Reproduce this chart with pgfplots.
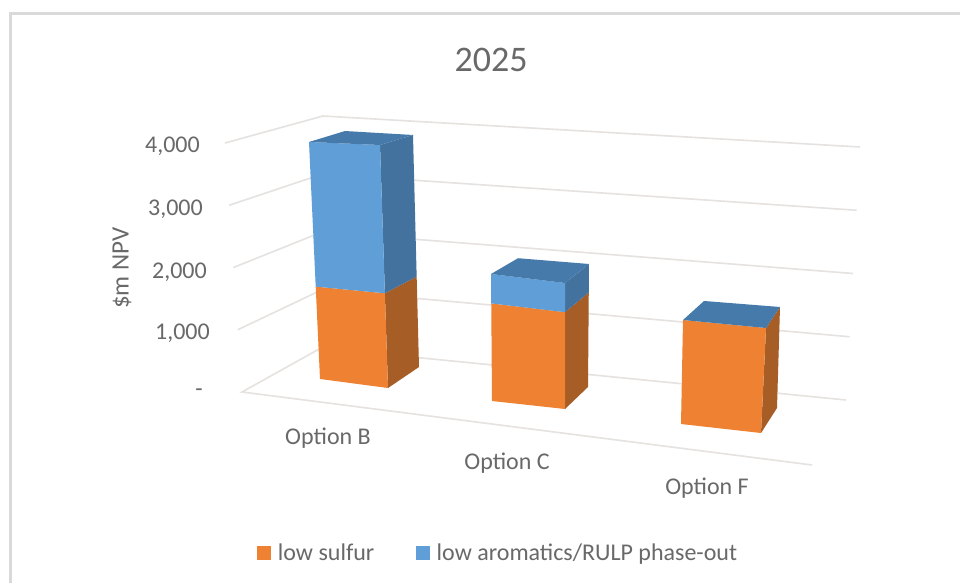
\documentclass[border=0pt]{standalone}
\usepackage{fontspec}
\setmainfont{Carlito}
\usepackage{pgfplots}
\pgfplotsset{compat=1.18}

\definecolor{sulfurfront}{RGB}{238,130,50}
\definecolor{sulfurside}{RGB}{166,93,38}
\definecolor{aromfront}{RGB}{95,158,215}
\definecolor{aromside}{RGB}{68,114,158}
\definecolor{aromtop}{RGB}{70,122,170}
\definecolor{gridgrey}{RGB}{229,226,224}
\definecolor{framegrey}{RGB}{217,217,217}
\definecolor{labelgrey}{RGB}{105,105,105}

% Each row holds a vertical edge of the 3D scene: its foot on the floor (fx,fy),
% its drift per 1000 units of value (gx,gy), and the value v reached on it.
\pgfplotsset{
  table/corner/.style={x expr=\thisrow{fx}+\thisrow{v}/1000*\thisrow{gx},
                 y expr=\thisrow{fy}+\thisrow{v}/1000*\thisrow{gy}},
  face/.style={fill=#1,draw=none,forget plot,no markers},
  gridline/.style={draw=gridgrey,line width=1.6pt,no markers,forget plot},
}

\begin{document}
\begin{tikzpicture}
\begin{axis}[
  scale only axis,width=960pt,height=583pt,
  xmin=0,xmax=960,ymin=0,ymax=583,y dir=reverse,
  hide axis,
  legend style={at={(0.268,0.0515)},anchor=west,draw=none,fill=none,
    font=\fontsize{24}{26}\selectfont\color{labelgrey},
    legend columns=2,inner sep=0pt,
    /tikz/every odd column/.append style={column sep=5pt},
    /tikz/every even column/.append style={column sep=40pt}},
]
\addlegendimage{legend image code/.code={\fill[sulfurfront] (0pt,-6.5pt) rectangle (13pt,6.5pt);}}
\addlegendentry{low sulfur}
\addlegendimage{legend image code/.code={\fill[aromfront] (0pt,-6.5pt) rectangle (13pt,6.5pt);}}
\addlegendentry{low aromatics/RULP phase-out}

% white chart area, which also fixes the extent of the picture
\addplot[fill=white,draw=none,no markers,forget plot] coordinates {(0,0) (960,0) (960,583) (0,583)};

% chart frame
\addplot[draw=framegrey,line width=2.6pt,no markers,forget plot] coordinates {(10.5,583) (10.5,13.5) (960,13.5)};

% gridlines along the side and back walls
\addplot[gridline] table[corner] {
fx fy gx gy v
242 392 -4.25 -62.25 4000
321 348 0.5 -58 4000
846 400 3.5 -63.25 4000
};
\addplot[gridline] table[corner] {
fx fy gx gy v
242 392 -4.25 -62.25 3000
321 348 0.5 -58 3000
846 400 3.5 -63.25 3000
};
\addplot[gridline] table[corner] {
fx fy gx gy v
242 392 -4.25 -62.25 2000
321 348 0.5 -58 2000
846 400 3.5 -63.25 2000
};
\addplot[gridline] table[corner] {
fx fy gx gy v
242 392 -4.25 -62.25 1000
321 348 0.5 -58 1000
846 400 3.5 -63.25 1000
};
\addplot[gridline] table[corner] {
fx fy gx gy v
321 348 0.5 -58 0
242 392 -4.25 -62.25 0
812 465 0 0 0
};
\addplot[gridline] table[corner] {
fx fy gx gy v
321 348 0.5 -58 0
846 400 3.5 -63.25 0
};

% Option B: low sulfur 1520, low aromatics 2380
\addplot[face=sulfurside] table[corner] {
fx fy gx gy v
388 388 -2.05 -62.31 0
419 367 -1.54 -59.49 0
419 367 -1.54 -59.49 1520
388 388 -2.05 -62.31 1520
};
\addplot[face=sulfurfront] table[corner] {
fx fy gx gy v
320 379 -2.82 -60.77 0
388 388 -2.05 -62.31 0
388 388 -2.05 -62.31 1520
320 379 -2.82 -60.77 1520
};
\addplot[face=aromside] table[corner] {
fx fy gx gy v
388 388 -2.05 -62.31 1520
419 367 -1.54 -59.49 1520
419 367 -1.54 -59.49 3900
388 388 -2.05 -62.31 3900
};
\addplot[face=aromfront] table[corner] {
fx fy gx gy v
320 379 -2.82 -60.77 1520
388 388 -2.05 -62.31 1520
388 388 -2.05 -62.31 3900
320 379 -2.82 -60.77 3900
};
\addplot[face=aromtop] table[corner] {
fx fy gx gy v
320 379 -2.82 -60.77 3900
388 388 -2.05 -62.31 3900
419 367 -1.54 -59.49 3900
354 358 -2.3 -58.2 3900
};

% Option C: low sulfur 1560, low aromatics 470
\addplot[face=sulfurside] table[corner] {
fx fy gx gy v
565 409 0 -62.07 0
588 387 0.49 -60.6 0
588 387 0.49 -60.6 1560
565 409 0 -62.07 1560
};
\addplot[face=sulfurfront] table[corner] {
fx fy gx gy v
492 401 -0.49 -62.56 0
565 409 0 -62.07 0
565 409 0 -62.07 1560
492 401 -0.49 -62.56 1560
};
\addplot[face=aromside] table[corner] {
fx fy gx gy v
565 409 0 -62.07 1560
588 387 0.49 -60.6 1560
588 387 0.49 -60.6 2030
565 409 0 -62.07 2030
};
\addplot[face=aromfront] table[corner] {
fx fy gx gy v
492 401 -0.49 -62.56 1560
565 409 0 -62.07 1560
565 409 0 -62.07 2030
492 401 -0.49 -62.56 2030
};
\addplot[face=aromtop] table[corner] {
fx fy gx gy v
492 401 -0.49 -62.56 2030
565 409 0 -62.07 2030
588 387 0.49 -60.6 2030
517 379 0.5 -59.5 2030
};

% Option F: low sulfur 1640, low aromatics 0
\addplot[face=sulfurside] table[corner] {
fx fy gx gy v
761 433 3.05 -64.02 0
777 408 1.83 -61.59 0
777 408 1.83 -61.59 1640
761 433 3.05 -64.02 1640
};
\addplot[face=sulfurfront] table[corner] {
fx fy gx gy v
681 424 1.22 -63.41 0
761 433 3.05 -64.02 0
761 433 3.05 -64.02 1640
681 424 1.22 -63.41 1640
};
\addplot[face=aromtop] table[corner] {
fx fy gx gy v
681 424 1.22 -63.41 1640
761 433 3.05 -64.02 1640
777 408 1.83 -61.59 1640
701 402 1.83 -61.6 1640
};

% title, axis title and axis labels
\node[text=labelgrey,font=\fontsize{36}{38}\selectfont] at (axis cs:491,60) {2025};
\node[text=labelgrey,font=\fontsize{25}{27}\selectfont,rotate=90] at (axis cs:122,268) {\$m NPV};
\node[text=labelgrey,font=\fontsize{24}{26}\selectfont,anchor=east,inner sep=0pt] at (axis cs:200,146) {4,000};
\node[text=labelgrey,font=\fontsize{24}{26}\selectfont,anchor=east,inner sep=0pt] at (axis cs:203,209) {3,000};
\node[text=labelgrey,font=\fontsize{24}{26}\selectfont,anchor=east,inner sep=0pt] at (axis cs:207,272) {2,000};
\node[text=labelgrey,font=\fontsize{24}{26}\selectfont,anchor=east,inner sep=0pt] at (axis cs:210,333) {1,000};
\node[text=labelgrey,font=\fontsize{24}{26}\selectfont,anchor=east,inner sep=0pt] at (axis cs:203,393) {-};
\node[text=labelgrey,font=\fontsize{24}{26}\selectfont] at (axis cs:328,438) {Option B};
\node[text=labelgrey,font=\fontsize{24}{26}\selectfont] at (axis cs:507,463) {Option C};
\node[text=labelgrey,font=\fontsize{24}{26}\selectfont] at (axis cs:707,488) {Option F};
\end{axis}
\end{tikzpicture}
\end{document}
